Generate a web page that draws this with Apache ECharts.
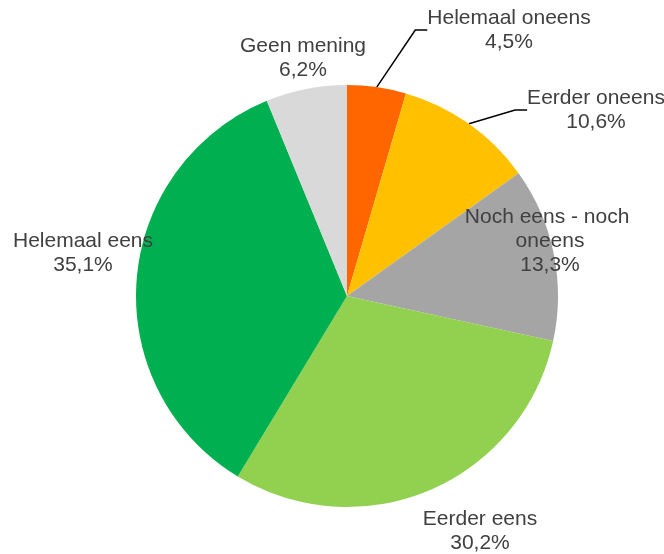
<!DOCTYPE html>
<html style="height: 100%">
<head>
<meta charset="UTF-8">
</head>
<body style="height: 100%; margin: 0">
<div id="container" style="width: 664px; height: 554px"></div>
<script src="https://cdn.jsdelivr.net/npm/echarts@6/dist/echarts.min.js"></script>
<script>
var categories = ['Helemaal oneens', 'Eerder oneens', 'Noch eens - noch oneens', 'Eerder eens', 'Helemaal eens', 'Geen mening'];
var values = [4.5, 10.6, 13.3, 30.2, 35.1, 6.2];
var colors = ['#FF6600', '#FFC000', '#A5A5A5', '#92D050', '#00B050', '#D9D9D9'];
var showLine = [true, true, false, false, false, false];
// label centres
var labelPos = [[509, 30], [596, 110], [550, 241], [480, 531], [83, 253], [303, 58]];

var dom = document.getElementById('container');
var myChart = echarts.init(dom);

var pieData = [];
for (var i = 0; i < categories.length; i++) {
	var item = {
		name: categories[i],
		value: values[i],
		itemStyle: { color: colors[i] },
		labelLine: { show: showLine[i] }
	};
	if (i == 2) {
		item.label = { width: 175, overflow: 'break' };
	} else if (i == 4) {
		item.label = { width: 160, overflow: 'none' };
	}
	pieData.push(item);
}

var option = {
	animation: false,
	series: [{
		type: 'pie',
		center: [347, 296],
		radius: 211,
		startAngle: 90,
		clockwise: true,
		data: pieData,
		itemStyle: { borderWidth: 0 },
		emphasis: { disabled: true },
		label: {
			show: true,
			position: 'outside',
			fontFamily: 'Liberation Sans, Arial, sans-serif',
			fontSize: 21,
			lineHeight: 24,
			color: '#404040',
			align: 'center',
			overflow: 'none',
			formatter: function (p) {
				return p.name + '\n' + p.value.toFixed(1).replace('.', ',') + '%';
			}
		},
		labelLine: {
			length: 20,
			length2: 12,
			lineStyle: { color: '#000000', width: 1.5 }
		},
		labelLayout: function (params) {
			var pos = labelPos[params.dataIndex];
			return {
				x: pos[0],
				y: pos[1],
				align: 'center',
				verticalAlign: 'middle'
			};
		}
	}]
};

myChart.setOption(option);
</script>
</body>
</html>
